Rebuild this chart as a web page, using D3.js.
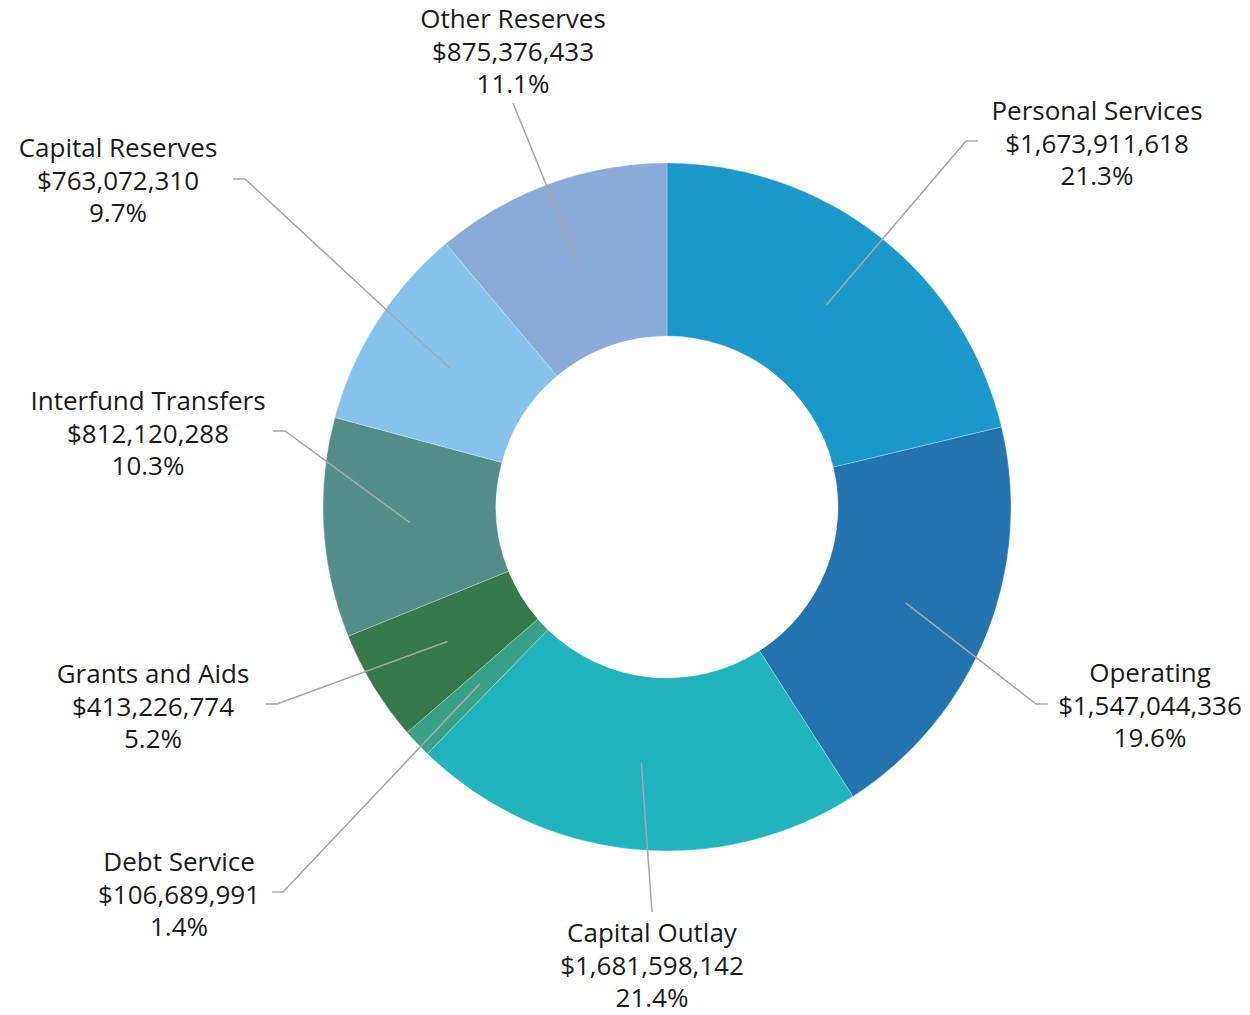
<!DOCTYPE html>
<html>
<head>
<meta charset="utf-8">
<script src="https://cdn.jsdelivr.net/npm/d3@7"></script>
<style>
  html, body { margin: 0; padding: 0; background: #ffffff; }
  svg { display: block; }
  text { font-family: "Open Sans", "Liberation Sans", sans-serif; font-size: 26px; fill: #1a1a1a; }
</style>
</head>
<body>
<svg id="chart" width="1250" height="1015"></svg>
<script>
// ---- Data ----
const categories = ["Personal Services", "Operating", "Capital Outlay", "Debt Service",
  "Grants and Aids", "Interfund Transfers", "Capital Reserves", "Other Reserves"];
const amounts = [1673911618, 1547044336, 1681598142, 106689991,
  413226774, 812120288, 763072310, 875376433];
const amountLabels = ["$1,673,911,618", "$1,547,044,336", "$1,681,598,142", "$106,689,991",
  "$413,226,774", "$812,120,288", "$763,072,310", "$875,376,433"];
const percentLabels = ["21.3%", "19.6%", "21.4%", "1.4%", "5.2%", "10.3%", "9.7%", "11.1%"];

// ---- Styles ----
const colors = ["#1A99CA", "#2374AE", "#21B4BD", "#38A085", "#36794B", "#548E88", "#86C3EA", "#89ABD5"];

// ---- Layout (label placement, as in the source chart) ----
const center = { x: 667, y: 507 };
const innerR = 171, outerR = 344;
const labelPos = [
  { x: 1097, y: 111 }, { x: 1150, y: 673 }, { x: 652, y: 933 }, { x: 179, y: 862 },
  { x: 153, y: 674 }, { x: 148, y: 401 }, { x: 118, y: 148 }, { x: 513, y: 19 }
];
const leaderPts = [
  [[966, 141], [978, 141]],
  [[1036, 704], [1048, 704]],
  [[652, 912]],
  [[283, 892], [272, 892]],
  [[277, 704], [266, 704]],
  [[285, 431], [273, 431]],
  [[245, 179], [233, 179]],
  [[513, 103]]
];
const lineGap = 32.5;

const svg = d3.select("#chart");
const g = svg.append("g").attr("transform", `translate(${center.x},${center.y})`);

const pie = d3.pie().sort(null).value(d => d.value).startAngle(0).endAngle(2 * Math.PI);
const arc = d3.arc().innerRadius(innerR).outerRadius(outerR);

const data = categories.map((c, i) => ({ name: c, value: amounts[i], i }));
const arcs = pie(data);

g.selectAll("path.slice")
  .data(arcs)
  .join("path")
  .attr("class", "slice")
  .attr("d", arc)
  .attr("fill", d => colors[d.data.i])
  .attr("stroke", "#ffffff")
  .attr("stroke-opacity", 0.35)
  .attr("stroke-width", 0.75);

// leader lines
const line = d3.line();
svg.selectAll("path.leader")
  .data(arcs)
  .join("path")
  .attr("class", "leader")
  .attr("d", d => {
    const c = arc.centroid(d);
    const pts = [[c[0] + center.x, c[1] + center.y]].concat(leaderPts[d.data.i]);
    return line(pts);
  })
  .attr("fill", "none")
  .attr("stroke", "#A6A6A6")
  .attr("stroke-width", 1.5);

// labels
const lab = svg.selectAll("g.label")
  .data(arcs)
  .join("g")
  .attr("class", "label")
  .attr("transform", d => `translate(${labelPos[d.data.i].x},${labelPos[d.data.i].y})`);

lab.each(function(d) {
  const i = d.data.i;
  const t = d3.select(this).append("text").attr("text-anchor", "middle");
  [categories[i], amountLabels[i], percentLabels[i]].forEach((s, k) => {
    t.append("tspan").attr("x", 0).attr("y", k * lineGap + 9).text(s);
  });
});
</script>
</body>
</html>
